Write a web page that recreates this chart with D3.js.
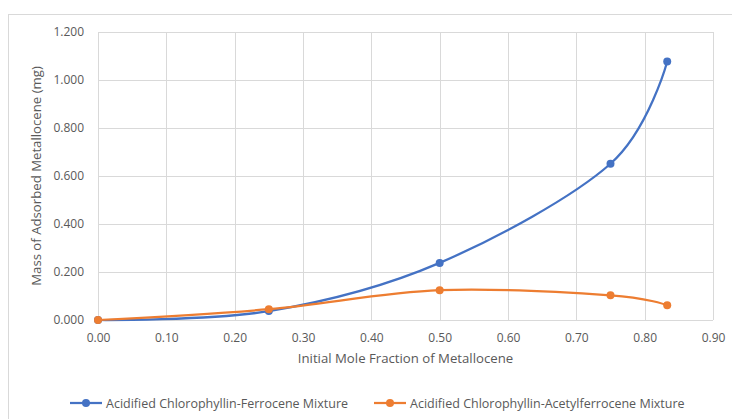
<!DOCTYPE html>
<html>
<head>
<meta charset="utf-8">
<script src="https://cdn.jsdelivr.net/npm/d3@7"></script>
<style>
  body { margin: 0; background: #fff; }
  text { font-family: "Open Sans", sans-serif; fill: #595959; }
</style>
</head>
<body>
<svg id="chart" width="732" height="419"></svg>
<script>
// data
const xValues = [0.00, 0.25, 0.50, 0.75, 0.833];
const ferrocene = [0.000, 0.037, 0.238, 0.651, 1.077];
const acetylferrocene = [0.000, 0.045, 0.124, 0.103, 0.061];
const seriesNames = ["Acidified Chlorophyllin-Ferrocene Mixture", "Acidified Chlorophyllin-Acetylferrocene Mixture"];
const seriesColors = ["#4472C4", "#ED7D31"];
const xTicks = [0, 0.1, 0.2, 0.3, 0.4, 0.5, 0.6, 0.7, 0.8, 0.9];
const yTicks = [0, 0.2, 0.4, 0.6, 0.8, 1.0, 1.2];

const margin = { top: 32, right: 19, bottom: 99, left: 98 },
    width = 732 - margin.left - margin.right,
    height = 419 - margin.top - margin.bottom;

const svg = d3.select("#chart");

// outer chart border
svg.append("rect")
    .attr("x", 8.5).attr("y", 14.5)
    .attr("width", 740).attr("height", 420)
    .attr("fill", "none").attr("stroke", "#d9d9d9");

const g = svg.append("g")
    .attr("transform", "translate(" + margin.left + "," + margin.top + ")");

const x = d3.scaleLinear().domain([0, 0.9]).range([0, width]);
const y = d3.scaleLinear().domain([0, 1.2]).range([height, 0]);

// gridlines
g.append("g").selectAll("line").data(yTicks).enter().append("line")
    .attr("x1", 0).attr("x2", width)
    .attr("y1", d => Math.round(y(d)) + 0.5).attr("y2", d => Math.round(y(d)) + 0.5)
    .attr("stroke", "#d9d9d9");
g.append("g").selectAll("line").data(xTicks).enter().append("line")
    .attr("x1", d => Math.round(x(d)) + 0.5).attr("x2", d => Math.round(x(d)) + 0.5)
    .attr("y1", 0).attr("y2", height)
    .attr("stroke", "#d9d9d9");

// axes (labels only)
const xAxis = g.append("g")
    .attr("transform", "translate(0," + height + ")")
    .call(d3.axisBottom(x).tickValues(xTicks).tickFormat(d3.format(".2f")).tickSize(0).tickPadding(13));
const yAxis = g.append("g")
    .call(d3.axisLeft(y).tickValues(yTicks).tickFormat(d3.format(".3f")).tickSize(0).tickPadding(14));
[xAxis, yAxis].forEach(a => {
    a.select(".domain").remove();
    a.selectAll("text").style("font-family", "'Open Sans', sans-serif").style("font-size", "12px").attr("fill", "#595959");
});

// axis titles
g.append("text")
    .attr("x", width / 2).attr("y", height + 43)
    .attr("text-anchor", "middle").style("font-size", "13.2px")
    .text("Initial Mole Fraction of Metallocene");
g.append("text")
    .attr("transform", "translate(" + (-57) + "," + (height / 2) + ") rotate(-90)")
    .attr("text-anchor", "middle").style("font-size", "13.2px")
    .text("Mass of Adsorbed Metallocene (mg)");

// smoothed series lines + markers
const line = d3.line()
    .x(d => x(d[0])).y(d => y(d[1]))
    .curve(d3.curveCardinal.tension(0));

[ferrocene, acetylferrocene].forEach((vals, i) => {
    const pts = xValues.map((v, j) => [v, vals[j]]);
    g.append("path").datum(pts)
        .attr("d", line)
        .attr("fill", "none")
        .attr("stroke", seriesColors[i])
        .attr("stroke-width", 2.25)
        .attr("stroke-linecap", "round");
    g.selectAll(".pt" + i).data(pts).enter().append("circle")
        .attr("class", "pt" + i)
        .attr("cx", d => x(d[0])).attr("cy", d => y(d[1]))
        .attr("r", 4)
        .attr("fill", seriesColors[i]);
});

// legend
const legendX = [70, 374];
const legend = svg.append("g");
seriesNames.forEach((name, i) => {
    const lg = legend.append("g").attr("transform", "translate(" + legendX[i] + ",403)");
    lg.append("line").attr("x1", 0).attr("x2", 32).attr("y1", 0).attr("y2", 0)
        .attr("stroke", seriesColors[i]).attr("stroke-width", 2.25);
    lg.append("circle").attr("cx", 16).attr("cy", 0).attr("r", 4).attr("fill", seriesColors[i]);
    lg.append("text").attr("x", 36).attr("y", 4.5).style("font-size", "12.5px").text(name);
});
</script>
</body>
</html>
